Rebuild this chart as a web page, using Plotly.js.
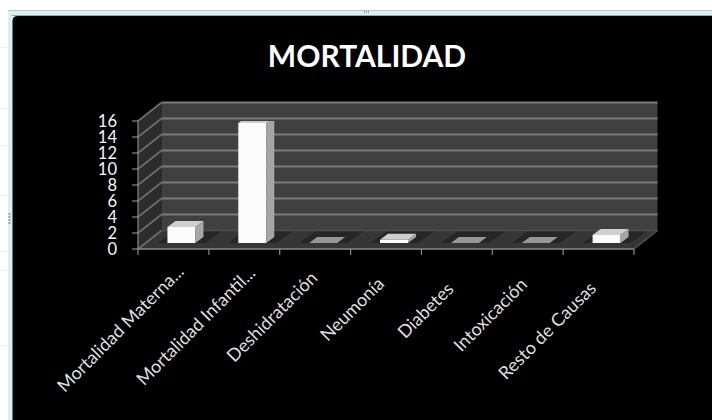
<!DOCTYPE html>
<html><head><meta charset="utf-8">
<script src="https://cdn.plot.ly/plotly-3.0.1.min.js"></script>
<style>html,body{margin:0;padding:0;background:#fff}#c{width:712px;height:420px}</style>
</head><body><div id="c"></div>
<script>
const categories = ["Mortalidad Materna...","Mortalidad Infantil...","Deshidratación","Neumonía","Diabetes","Intoxicación","Resto de Causas"];
const values = [2,15,0,0.4,0,0,1];
const yTicks = [0,2,4,6,8,10,12,14,16];
const labelShiftX = [16,17,8,3,2,5,3];
const labelShiftY = [10,11,16,22,27,22,26];
const M = {l:138,r:78,t:121,b:171};
const W=712,H=420,PW=W-M.l-M.r,PH=H-M.t-M.b;
const xr=[-0.5,6.5], yr=[0,16];
const ux=PW/7, uy=PH/16;
const wallDx=23.5/ux, wallDy=18.5/uy;
const barShift=8/ux, barBase=6/uy, barW=28/ux, barDx=8/ux, barDy=6/uy;
const px=x=>(x-xr[0])/(xr[1]-xr[0]), py=y=>(y-yr[0])/(yr[1]-yr[0]);
const pathOf=pts=>'M'+pts.map(p=>px(p[0])+','+py(p[1])).join('L')+'Z';
const shapes=[];
function poly(pts,fill){shapes.push({type:'path',xref:'paper',yref:'paper',path:pathOf(pts),fillcolor:fill,line:{width:0},layer:'below'});}
function seg(a,b,c,w){shapes.push({type:'line',xref:'paper',yref:'paper',x0:px(a[0]),y0:py(a[1]),x1:px(b[0]),y1:py(b[1]),line:{color:c,width:w},layer:'below'});}
const fx=x=>(x-M.l)/PW, fy=y=>(H-M.b-y)/PH;
function rectPx(x0,y0,x1,y1,fill){shapes.push({type:'rect',xref:'paper',yref:'paper',x0:fx(x0),x1:fx(x1),y0:fy(y1),y1:fy(y0),fillcolor:fill,line:{width:0},layer:'below'});}
// window frame
rectPx(8,10,712,420,'#d9f0f5');
rectPx(8,10,712,11,'#b4c4c8');
rectPx(11.5,15,712,16,'#9aa5a8');
[0,1,2].forEach(k=>rectPx(364+k*2,11,365+k*2,13,'#9aa5a8'));
[0,1,2,3].forEach(k=>rectPx(8.5,213+k*3,10.5,215+k*3,'#9aa5a8'));
[47,108,145,195,251,270,345].forEach(y=>rectPx(0,y,8,y+1,'#eef1f2'));
shapes.push({type:'path',xref:'paper',yref:'paper',layer:'below',fillcolor:'#000000',line:{width:0},
  path:'M'+fx(12.5)+','+fy(420)+'L'+fx(12.5)+','+fy(21)+'Q'+fx(12.5)+','+fy(16)+' '+fx(18)+','+fy(16)+'L'+fx(712)+','+fy(16)+'L'+fx(712)+','+fy(420)+'Z'});
const L=xr[0],R=xr[1],T=yr[1];
poly([[L,0],[L+wallDx,wallDy],[R+wallDx,wallDy],[R,0]],'#363636');
poly([[L,0],[L,T],[L+wallDx,T+wallDy],[L+wallDx,wallDy]],'#2c2c2c');
poly([[L+wallDx,wallDy],[L+wallDx,T+wallDy],[R+wallDx,T+wallDy],[R+wallDx,wallDy]],'#404040');
yTicks.forEach(v=>{
  if(v>0) seg([L+wallDx,v+wallDy],[R+wallDx,v+wallDy],'#7a7a7a',2);
  seg([L,v],[L+wallDx,v+wallDy],'#6e6e6e',1.6);
  seg([L-6/ux,v],[L,v],'#8a8a8a',1.2);
});
seg([L+wallDx,wallDy],[R+wallDx,wallDy],'#4c4c4c',1.5);
seg([L,0],[L,T],'#8a8a8a',1.2);
seg([L,0],[R,0],'#8a8a8a',1.6);
seg([R,0],[R+wallDx,wallDy],'#555555',1.2);
for(let i=0;i<=7;i++) seg([L+i,0],[L+i,-6/uy],'#8a8a8a',1.2);

const traces=[];
categories.forEach((c,i)=>{
  const v=values[i], xl=i+barShift-barW/2, xr2=i+barShift+barW/2;
  const m=10/ux;
  poly([[xl-m,barBase],[xl-m+barDx*2,wallDy*0.95],[xr2+m+barDx*2,wallDy*0.95],[xr2+m,barBase]],'#262626');
  if(v>0) traces.push({type:'scatter',mode:'lines',x:[xr2,xr2+barDx,xr2+barDx,xr2,xr2],y:[barBase,barBase+barDy,barBase+barDy+v,barBase+v,barBase],fill:'toself',fillcolor:'#a6a6a6',line:{width:0},cliponaxis:false,hoverinfo:'skip',showlegend:false});
  traces.push({type:'scatter',mode:'lines',x:[xl,xl+barDx,xr2+barDx,xr2,xl],y:[barBase+v,barBase+v+barDy,barBase+v+barDy,barBase+v,barBase+v],fill:'toself',fillcolor:v>0?'#cfcfcf':'#969696',line:{width:0},cliponaxis:false,hoverinfo:'skip',showlegend:false});
});
traces.push({type:'bar',x:categories.map((c,i)=>i+barShift),y:values,base:values.map(()=>barBase),width:barW,marker:{color:'#fbfbfb',line:{width:0}},cliponaxis:false,showlegend:false});

const annotations=categories.map((c,i)=>({text:c,x:i,xref:'x',y:0,yref:'paper',xanchor:'right',yanchor:'top',xshift:labelShiftX[i],yshift:-labelShiftY[i],textangle:-45,showarrow:false,borderpad:0,font:{family:'Lato',size:18,color:'#dedede'}}));

Plotly.newPlot('c',traces,{
  width:W,height:H,margin:{l:M.l,r:M.r,t:M.t,b:M.b,pad:0},
  paper_bgcolor:'#ffffff',plot_bgcolor:'rgba(0,0,0,0)',showlegend:false,
  title:{text:'<b>MORTALIDAD</b>',font:{family:'Lato',size:30,color:'#ffffff'},x:367/W,xanchor:'center',y:1-56/H,yanchor:'middle'},
  xaxis:{range:xr,tickmode:'array',tickvals:[],ticks:'',showgrid:false,zeroline:false,showline:false},
  yaxis:{range:yr,tickmode:'array',tickvals:yTicks,ticktext:yTicks.map(String),ticks:'',showgrid:false,zeroline:false,showline:false,tickfont:{family:'Lato',size:16.5,color:'#f2f8ff'},ticklabelstandoff:20},
  shapes:shapes,annotations:annotations
},{displayModeBar:false,staticPlot:true});
</script></body></html>
